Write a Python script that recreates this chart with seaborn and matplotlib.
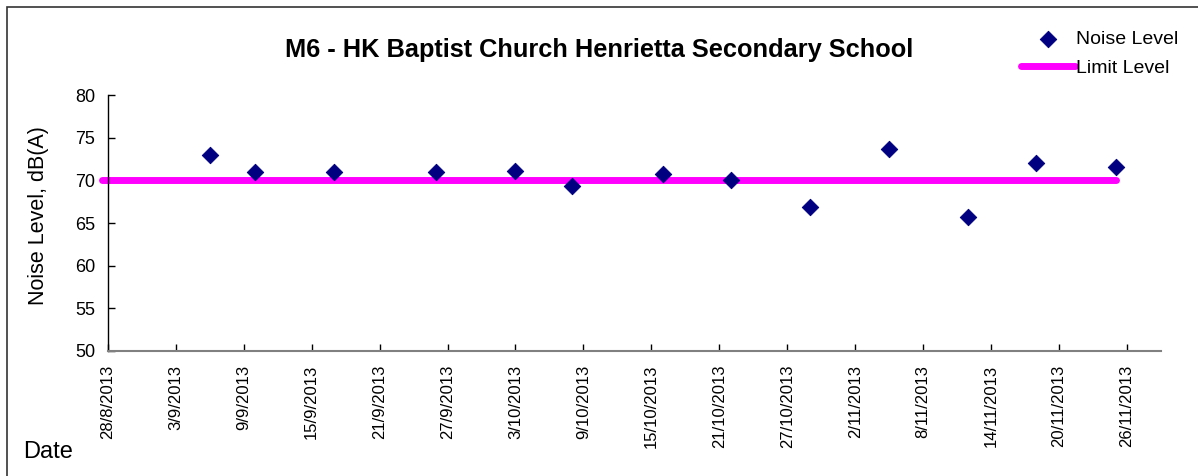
import numpy as np
import pandas as pd
import matplotlib
matplotlib.use('Agg')
import matplotlib.pyplot as plt
import matplotlib.dates as mdates
from matplotlib.ticker import FuncFormatter
from matplotlib.patches import Rectangle
import seaborn as sns

# 测量日期和噪声值
dates = ['2013-09-06', '2013-09-10', '2013-09-17', '2013-09-26', '2013-10-03',
         '2013-10-08', '2013-10-16', '2013-10-22', '2013-10-29', '2013-11-05',
         '2013-11-12', '2013-11-18', '2013-11-25']
noise = [73.0, 71.0, 71.0, 71.0, 71.1, 69.4, 70.7, 70.0, 66.9, 73.7, 65.7, 72.1, 71.6]

# 限值线
limit_dates = ['2013-08-27 12:00', '2013-11-25 00:00']
limit_values = [70, 70]

title = 'M6 - HK Baptist Church Henrietta Secondary School'
y_ticks = [50, 55, 60, 65, 70, 75, 80]

df = pd.DataFrame({'Date': pd.to_datetime(dates), 'Noise': noise})
df_limit = pd.DataFrame({'Date': pd.to_datetime(limit_dates), 'Limit': limit_values})

sns.set_style('white')
plt.rcParams['font.family'] = ['Liberation Sans', 'DejaVu Sans']
# 文字全部用黑色
plt.rcParams['text.color'] = 'black'
plt.rcParams['axes.labelcolor'] = 'black'
plt.rcParams['xtick.color'] = 'black'
plt.rcParams['ytick.color'] = 'black'

fig = plt.figure(figsize=(11.98, 4.76), dpi=100)
ax = fig.add_axes([0.090, 0.263, 0.879, 0.537])

sns.lineplot(data=df_limit, x='Date', y='Limit', ax=ax, color='#FF00FF',
             linewidth=5, solid_capstyle='round', label='Limit Level', clip_on=False)
sns.scatterplot(data=df, x='Date', y='Noise', ax=ax, marker='D', s=70,
                color='#000080', edgecolor='#000080', label='Noise Level', zorder=5)

ax.set_ylim(50, 80)
ax.set_yticks(y_ticks)
ax.set_xlim(pd.Timestamp('2013-08-28'), pd.Timestamp('2013-11-29'))
ticks = pd.date_range('2013-08-28', '2013-11-26', freq='6D')
ax.set_xticks(ticks)
ax.xaxis.set_major_formatter(FuncFormatter(
    lambda v, p: '%d/%d/%d' % (mdates.num2date(v).day, mdates.num2date(v).month, mdates.num2date(v).year)))
ax.tick_params(axis='x', bottom=True, labelrotation=90, labelsize=12, direction='in',
               length=5, width=1, color='#000000', pad=10)
ax.tick_params(axis='y', left=True, labelsize=13, direction='in',
               length=5, width=1, color='#000000', pad=9)

for s in ['top', 'right']:
    ax.spines[s].set_visible(False)
ax.spines['left'].set_color('#000000')
ax.spines['bottom'].set_color('#808080')
ax.spines['left'].set_linewidth(1)
ax.spines['bottom'].set_linewidth(1.5)

ax.set_xlabel('')
ax.set_ylabel('Noise Level, dB(A)', fontsize=15.5, labelpad=18)
ax.yaxis.set_label_coords(-0.056, 0.53)
fig.text(0.019, 0.038, 'Date', fontsize=17, va='baseline')
fig.text(0.5, 0.895, title, fontsize=18.3, fontweight='bold', ha='center', va='center')

# 图例放在右上角
handles, labels = ax.get_legend_handles_labels()
ax.legend(handles[::-1], labels[::-1], loc='upper right', bbox_to_anchor=(0.995, 0.965),
          bbox_transform=fig.transFigure, frameon=False, fontsize=14,
          handlelength=2.8, handletextpad=0.05, labelspacing=0.6, borderpad=0.2)

# 外框(左、上)
fig.patches.append(Rectangle((7 / 1198, -0.05), 1.05, 1.05 - 7 / 476, transform=fig.transFigure,
                             fill=False, edgecolor='#333333', linewidth=1.2))

fig.savefig('out.png', dpi=100)
